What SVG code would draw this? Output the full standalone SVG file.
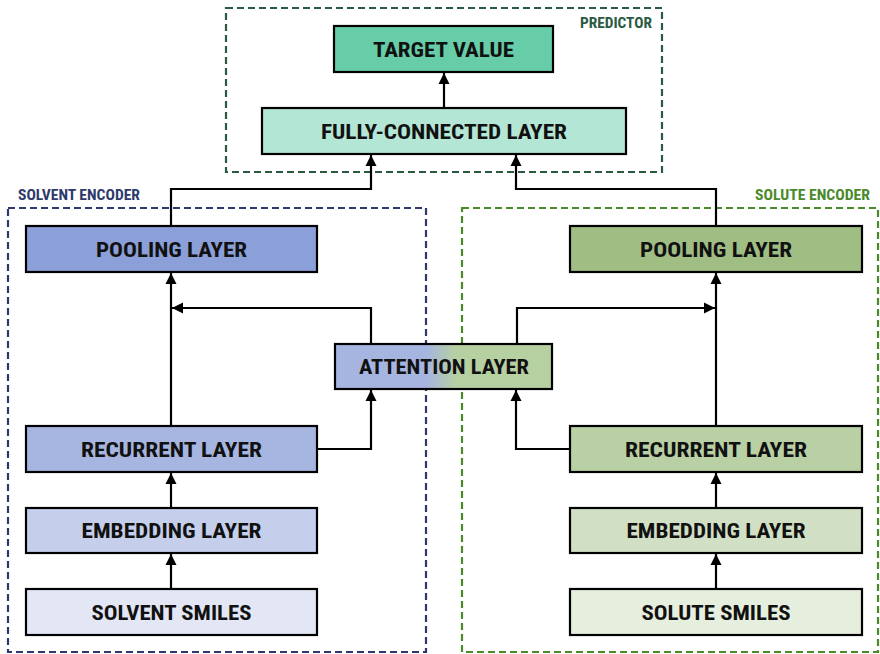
<svg xmlns="http://www.w3.org/2000/svg" width="880" height="654" viewBox="0 0 880 654">
<defs>
<style>
.box{stroke:#000;stroke-width:2.2}
.t{font-family:"Liberation Sans Narrow","Roboto Condensed","Liberation Sans",Arial,sans-serif;font-weight:bold;font-size:20.5px;fill:#111;text-anchor:middle}
.lbl{font-family:"Liberation Sans Narrow","Roboto Condensed","Liberation Sans",Arial,sans-serif;font-weight:bold;font-size:14px}
.grp{fill:none;stroke-width:2.2;stroke-dasharray:7,4}
.c{fill:none;stroke:#000;stroke-width:2.2}
</style>
<marker id="ah" markerUnits="userSpaceOnUse" markerWidth="12" markerHeight="12" viewBox="0 0 12 12" refX="11" refY="6" orient="auto">
<path d="M0,0.5 L11,6 L0,11.5 Z" fill="#000"/>
</marker>
<linearGradient id="att" x1="335" y1="0" x2="552" y2="0" gradientUnits="userSpaceOnUse">
<stop offset="0" stop-color="#a6b5e0"/>
<stop offset="0.42" stop-color="#a6b5e0"/>
<stop offset="0.56" stop-color="#b7d0a2"/>
<stop offset="1" stop-color="#b7d0a2"/>
</linearGradient>
</defs>
<rect width="880" height="654" fill="#fff"/>
<g id="groups">
<rect class="grp" x="226" y="8" width="436" height="164" stroke="#2a5a42"/>
<text class="lbl" x="580" y="28" textLength="72" lengthAdjust="spacingAndGlyphs" fill="#2a5a42">PREDICTOR</text>
<rect class="grp" x="8" y="208" width="418" height="444" stroke="#2d3a6b"/>
<text class="lbl" x="18" y="200" textLength="122" lengthAdjust="spacingAndGlyphs" fill="#2d3a6b">SOLVENT ENCODER</text>
<rect class="grp" x="462" y="208" width="416" height="444" stroke="#4a8a2a"/>
<text class="lbl" x="755" y="200" textLength="115" lengthAdjust="spacingAndGlyphs" fill="#4a8a2a">SOLUTE ENCODER</text>
</g>
<g id="connectors">
<path class="c" d="M444,108 V73" marker-end="url(#ah)"/>
<path class="c" d="M171,226 V189 H371 V155" marker-end="url(#ah)"/>
<path class="c" d="M716,226 V189 H516 V155" marker-end="url(#ah)"/>
<path class="c" d="M371,344 V308 H172" marker-end="url(#ah)"/>
<path class="c" d="M517,344 V308 H715" marker-end="url(#ah)"/>
<path class="c" d="M171,426 V273" marker-end="url(#ah)"/>
<path class="c" d="M716,426 V273" marker-end="url(#ah)"/>
<path class="c" d="M317,449 H371 V390" marker-end="url(#ah)"/>
<path class="c" d="M570,449 H516 V390" marker-end="url(#ah)"/>
<path class="c" d="M171,508 V473" marker-end="url(#ah)"/>
<path class="c" d="M716,508 V473" marker-end="url(#ah)"/>
<path class="c" d="M171,589 V554" marker-end="url(#ah)"/>
<path class="c" d="M716,589 V554" marker-end="url(#ah)"/>
</g>
<g id="target-value"><rect class="box" x="334" y="26" width="219" height="46" fill="#66cda8"/><text class="t" x="443.5" y="57" textLength="141" lengthAdjust="spacingAndGlyphs">TARGET VALUE</text></g>
<g id="fully-connected"><rect class="box" x="262" y="108" width="364" height="46" fill="#b3e6d4"/><text class="t" x="444" y="139" textLength="246" lengthAdjust="spacingAndGlyphs">FULLY-CONNECTED LAYER</text></g>
<g id="attention"><rect class="box" x="335" y="344" width="217" height="45" fill="url(#att)"/><text class="t" x="444" y="374" textLength="170" lengthAdjust="spacingAndGlyphs">ATTENTION LAYER</text></g>
<g id="solvent-pooling"><rect class="box" x="26" y="226" width="291" height="46" fill="#8b9fd8"/><text class="t" x="171.5" y="257" textLength="151" lengthAdjust="spacingAndGlyphs">POOLING LAYER</text></g>
<g id="solvent-recurrent"><rect class="box" x="26" y="426" width="291" height="46" fill="#a7b6e1"/><text class="t" x="171.5" y="457" textLength="181" lengthAdjust="spacingAndGlyphs">RECURRENT LAYER</text></g>
<g id="solvent-embedding"><rect class="box" x="26" y="508" width="291" height="45" fill="#c5cfec"/><text class="t" x="171.5" y="538" textLength="180" lengthAdjust="spacingAndGlyphs">EMBEDDING LAYER</text></g>
<g id="solvent-smiles"><rect class="box" x="26" y="589" width="291" height="46" fill="#e3e7f5"/><text class="t" x="171.5" y="620" textLength="160" lengthAdjust="spacingAndGlyphs">SOLVENT SMILES</text></g>
<g id="solute-pooling"><rect class="box" x="570" y="226" width="292" height="46" fill="#a0bd84"/><text class="t" x="716" y="257" textLength="152" lengthAdjust="spacingAndGlyphs">POOLING LAYER</text></g>
<g id="solute-recurrent"><rect class="box" x="570" y="426" width="292" height="46" fill="#b8d0a4"/><text class="t" x="716" y="457" textLength="182" lengthAdjust="spacingAndGlyphs">RECURRENT LAYER</text></g>
<g id="solute-embedding"><rect class="box" x="570" y="508" width="292" height="45" fill="#d1e0c4"/><text class="t" x="716" y="538" textLength="179" lengthAdjust="spacingAndGlyphs">EMBEDDING LAYER</text></g>
<g id="solute-smiles"><rect class="box" x="570" y="589" width="292" height="46" fill="#e6eedd"/><text class="t" x="716" y="620" textLength="149" lengthAdjust="spacingAndGlyphs">SOLUTE SMILES</text></g>
</svg>
